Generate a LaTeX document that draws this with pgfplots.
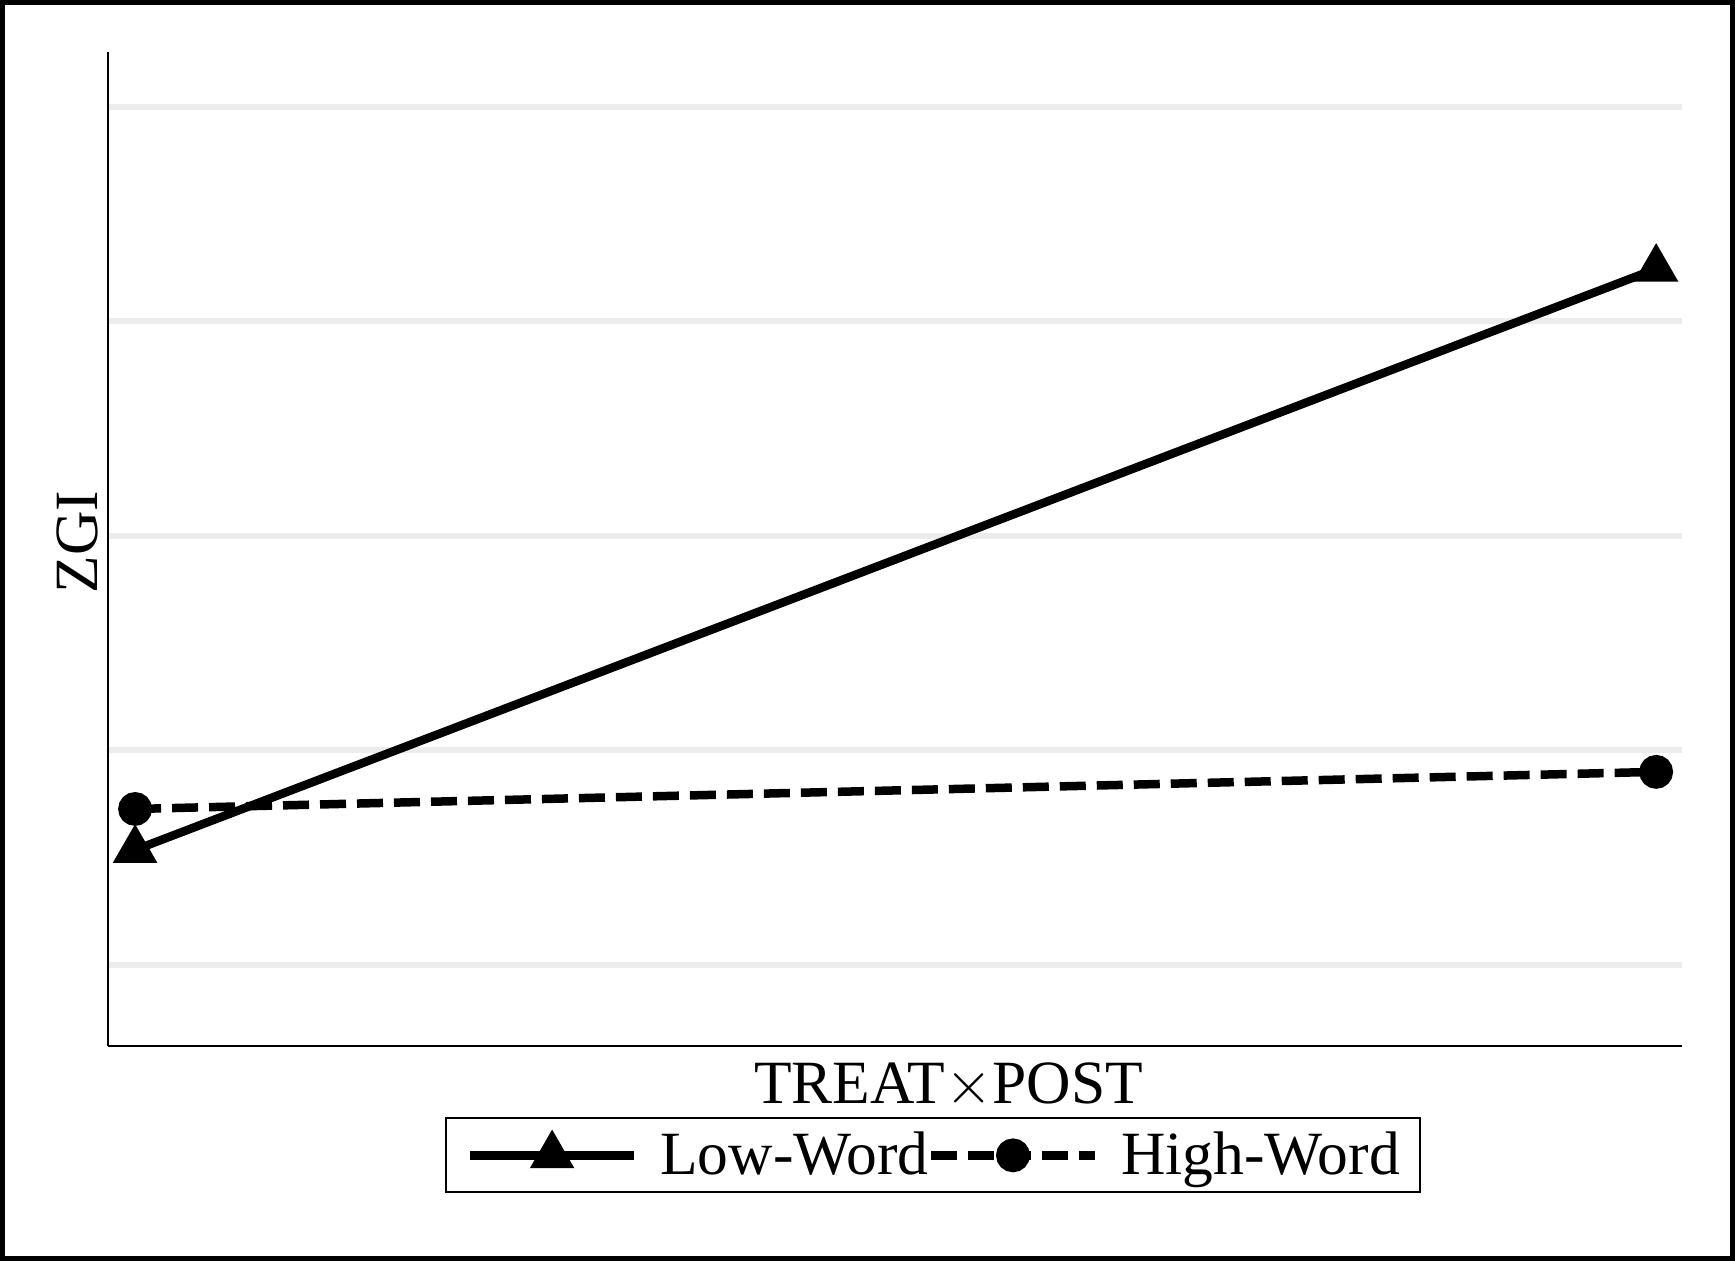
\documentclass[border=0pt]{standalone}
\usepackage{fontspec}
\setmainfont{Liberation Serif}
\usepackage{pgfplots}
\pgfplotsset{compat=1.18}
\definecolor{gridgray}{RGB}{236,236,236}

\newcommand{\lblfont}{\fontsize{17.5}{21}\selectfont}

\begin{document}
\begin{tikzpicture}
\useasboundingbox (0,0) rectangle (17.35,12.61);
\begin{axis}[
    at={(1.08cm,2.15cm)}, anchor=south west,
    scale only axis,
    width=15.74cm, height=9.94cm,
    xmin=-0.0178, xmax=1.017,
    ymin=-0.378, ymax=4.256,
    axis lines*=left,
    axis line style={line width=0.6pt},
    xtick=\empty,
    ytick={0,1,2,3,4}, yticklabels={},
    major tick length=0pt,
    ymajorgrids,
    grid style={line width=0.06cm, gridgray},
    xlabel={TREAT$\times$POST},
    ylabel={ZGI},
    label style={font=\lblfont},
    xlabel style={at={(rel axis cs:0.534,-0.016)}, anchor=north, inner sep=0pt},
    ylabel style={at={(rel axis cs:-0.0197,0.507)}, anchor=center, inner sep=0pt},
    legend columns=2,
    legend cell align=left,
    legend image code/.code={
        \draw[mark repeat=2, mark phase=2, #1]
            plot coordinates {(0cm,0cm) (0.82cm,0cm) (1.64cm,0cm)};
    },
    legend style={
        at={(rel axis cs:0.2141,-0.110)}, anchor=west,
        draw=black, line width=0.5pt,
        font=\lblfont,
        inner xsep=0.2cm, inner ysep=0.13cm,
        nodes={inner sep=0pt},
        /tikz/every odd column/.append style={column sep=0.22cm},
        /tikz/every even column/.append style={column sep=-0.02cm},
    },
]

% Low-Word
\addplot[black, line width=0.085cm, mark=triangle*, mark size=4.9pt,
    mark options={solid}]
coordinates {
    (0,0.536)
    (1,3.245)
};
\addlegendentry{Low-Word}

% High-Word
\addplot[black, line width=0.085cm, dash pattern=on 0.26cm off 0.11cm,
    mark=*, mark size=3.6pt, mark options={solid}]
coordinates {
    (0,0.727)
    (1,0.900)
};
\addlegendentry{High-Word}

\end{axis}
\draw[line width=0.05cm] (0.025,0.025) rectangle (17.325,12.585);
\end{tikzpicture}
\end{document}
